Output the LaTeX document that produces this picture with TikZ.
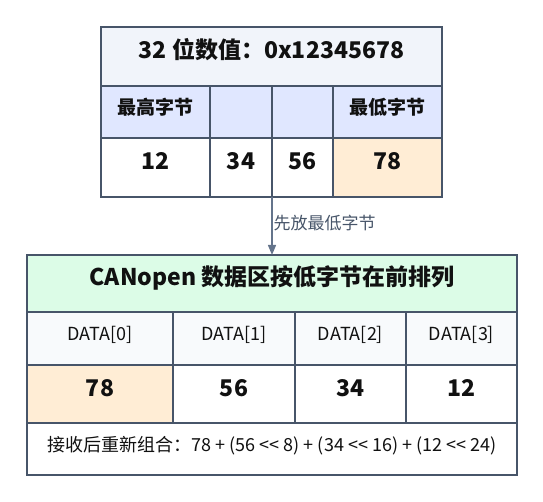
\documentclass[tikz,border=0pt]{standalone}
\usepackage{fontspec}
\setmainfont{Noto Sans CJK SC}
\usetikzlibrary{arrows.meta}
\definecolor{bd}{HTML}{475569}
\definecolor{arr}{HTML}{64748B}
\definecolor{lbl}{HTML}{475569}
\definecolor{txt}{HTML}{111111}
\definecolor{hdrA}{HTML}{F1F4FA}
\definecolor{rowB}{HTML}{E0E7FF}
\definecolor{hot}{HTML}{FFEDD5}
\definecolor{hdrG}{HTML}{DCFCE7}
\definecolor{rowS}{HTML}{F8FAFC}
\tikzset{
  cell/.style={draw=bd, line width=1.3pt, inner sep=0pt, outer sep=0pt, anchor=center, text=txt, text height=0.75em, text depth=0.25em},
  big/.style={font=\fontsize{23}{26}\selectfont\bfseries},
  mid/.style={font=\fontsize{19}{22}\selectfont\bfseries},
  reg/.style={font=\fontsize{18}{21}\selectfont},
  conn/.style={draw=arr, line width=1.3pt, -{Triangle[width=8pt,length=10pt]}},
  edgelbl/.style={font=\fontsize{17}{20}\selectfont, text=lbl, anchor=west, inner sep=1pt}
}
\begin{document}
\begin{tikzpicture}[x=1pt,y=-1pt]
\useasboundingbox (0,0) rectangle (543,502);
% top table
\node[cell, big, fill=hdrA, minimum width=341pt, minimum height=59pt] (th) at (271.5,56.5) {32 位数值：0x12345678};
\node[cell, mid, fill=rowB, minimum width=109pt, minimum height=52pt] (a1) at (155.5,112) {最高字节};
\node[cell, mid, fill=rowB, minimum width=62pt, minimum height=52pt] (a2) at (241,112) {};
\node[cell, mid, fill=rowB, minimum width=61pt, minimum height=52pt] (a3) at (302.5,112) {};
\node[cell, mid, fill=rowB, minimum width=109pt, minimum height=52pt] (a4) at (387.5,112) {最低字节};
\node[cell, big, fill=white, minimum width=109pt, minimum height=59pt] (b1) at (155.5,167.5) {12};
\node[cell, big, fill=white, minimum width=62pt, minimum height=59pt] (b2) at (241,167.5) {34};
\node[cell, big, fill=white, minimum width=61pt, minimum height=59pt] (b3) at (302.5,167.5) {56};
\node[cell, big, fill=hot, minimum width=109pt, minimum height=59pt] (b4) at (387.5,167.5) {78};
% bottom table
\node[cell, big, fill=hdrG, minimum width=490pt, minimum height=57pt] (bh) at (272,283.5) {CANopen 数据区按低字节在前排列};
\node[cell, reg, fill=rowS, minimum width=146pt, minimum height=53pt] (d0) at (100,338.5) {DATA[0]};
\node[cell, reg, fill=rowS, minimum width=122pt, minimum height=53pt] (d1) at (234,338.5) {DATA[1]};
\node[cell, reg, fill=rowS, minimum width=111pt, minimum height=53pt] (d2) at (350.5,338.5) {DATA[2]};
\node[cell, reg, fill=rowS, minimum width=111pt, minimum height=53pt] (d3) at (461.5,338.5) {DATA[3]};
\node[cell, big, fill=hot, minimum width=146pt, minimum height=58pt] (v0) at (100,394) {78};
\node[cell, big, fill=white, minimum width=122pt, minimum height=58pt] (v1) at (234,394) {56};
\node[cell, big, fill=white, minimum width=111pt, minimum height=58pt] (v2) at (350.5,394) {34};
\node[cell, big, fill=white, minimum width=111pt, minimum height=58pt] (v3) at (461.5,394) {12};
\node[cell, reg, fill=white, minimum width=490pt, minimum height=52pt] (ft) at (272,449) {接收后重新组合：78 + (56 <{}< 8) + (34 <{}< 16) + (12 <{}< 24)};
% connector
\draw[conn] (b3.south west) -- node[edgelbl, pos=0.45] {先放最低字节} (bh.north);
\end{tikzpicture}
\end{document}
